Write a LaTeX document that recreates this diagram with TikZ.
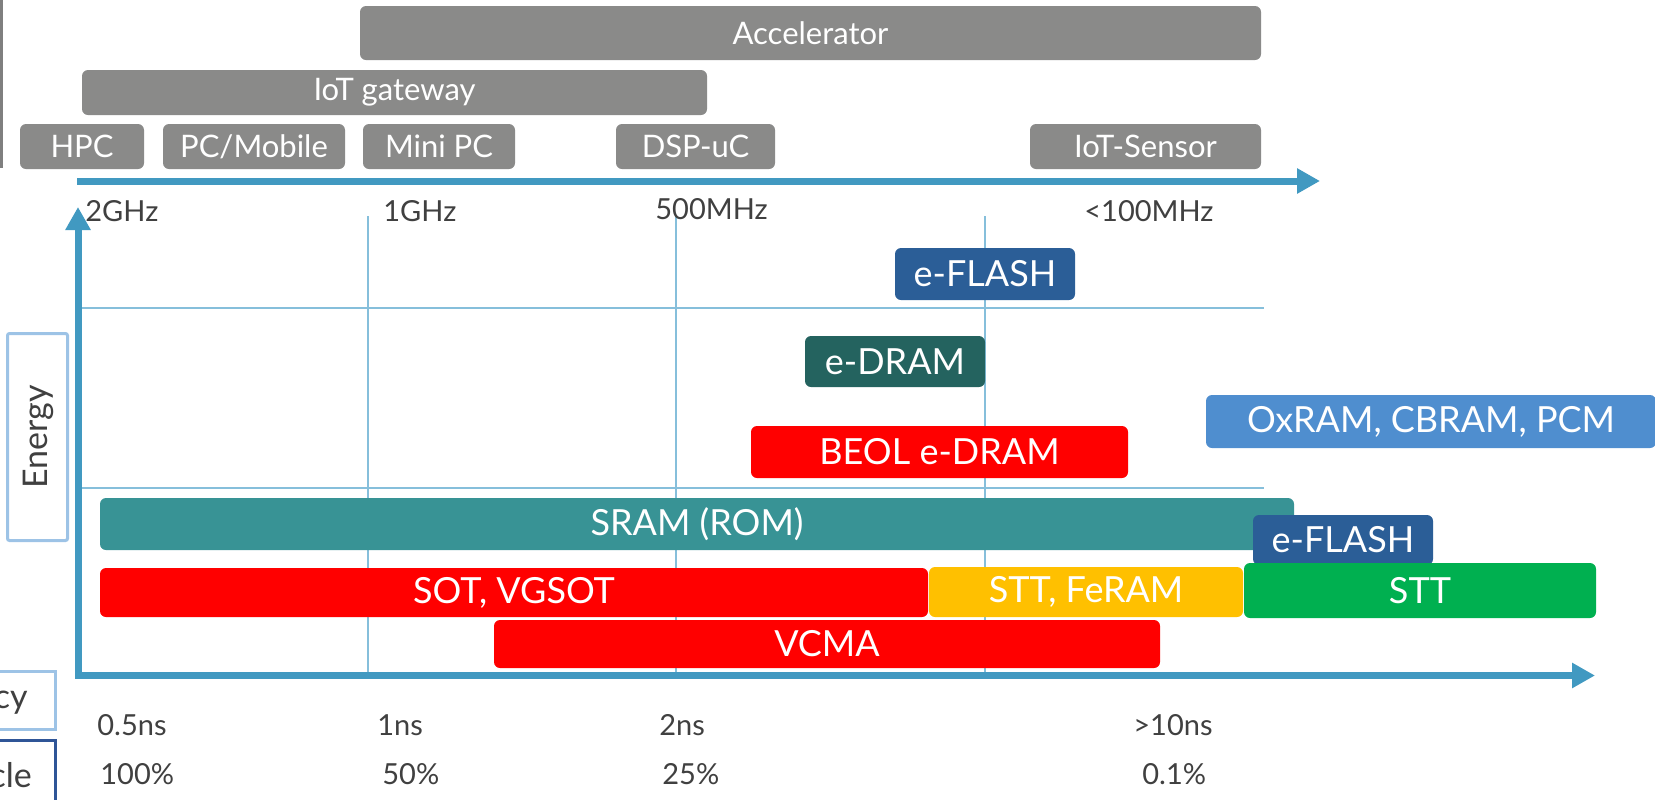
\documentclass[tikz,border=0pt]{standalone}
\usepackage{fontspec}
\setmainfont{Lato}
\usetikzlibrary{arrows.meta}
\definecolor{grayc}{HTML}{8A8A89}
\definecolor{axisblue}{HTML}{4199C1}
\definecolor{gridblue}{HTML}{86BFDB}
\definecolor{eflash}{HTML}{2B5E97}
\definecolor{edram}{HTML}{24635F}
\definecolor{oxram}{HTML}{4F8ECF}
\definecolor{sram}{HTML}{389395}
\definecolor{feram}{HTML}{FFC000}
\definecolor{sttg}{HTML}{00B050}
\definecolor{redc}{HTML}{FF0000}
\definecolor{txt}{HTML}{404040}
\definecolor{lightbord}{HTML}{9DC3E6}
\definecolor{darkbord}{HTML}{2F5597}
\definecolor{leftgray}{HTML}{7F7F7F}
\tikzset{
  sz/.style 2 args={minimum width=#1*0.5pt, minimum height=#2*0.5pt},
  tbox/.style={fill=grayc, rounded corners=3pt, text=white, inner sep=0pt,
    font=\fontsize{15.5}{18}\selectfont},
  mbox/.style={rounded corners=3pt, text=white, inner sep=0pt,
    font=\fontsize{18}{21}\selectfont},
  lbl/.style={text=txt, inner sep=0pt, anchor=base west,
    font=\fontsize{14.5}{17}\selectfont},
  sidetxt/.style={text=txt, inner sep=0pt, font=\fontsize{17}{20}\selectfont},
  gridl/.style={draw=gridblue, line width=0.75pt},
  axisline/.style={draw=axisblue, line width=3.5pt, line join=miter}
}
\begin{document}
\begin{tikzpicture}[x=0.5pt,y=-0.5pt]
\useasboundingbox (0,0) rectangle (1655,799);
\clip (0,0) rectangle (1655,799);

% left edge remnants
\fill[leftgray] (0,0) rectangle (3,168);
\node[draw=lightbord, line width=1.5pt, sz={210}{58}, inner sep=0pt] (latbox) at (-49.5,700.5) {};
\node[sidetxt, anchor=base east] (lattxt) at (28,708) {Latency};
\node[draw=darkbord, line width=1.5pt, sz={210}{80}, inner sep=0pt] (dutybox) at (-49.5,780) {};
\node[sidetxt, anchor=base east] (dutytxt) at (32,787) {Duty cycle};
\node[draw=lightbord, line width=1.5pt, rounded corners=1pt, sz={60}{207}, inner sep=0pt] (enbox) at (37.5,437) {};
\node[sidetxt, rotate=90] (entxt) at (38,437) {Energy};

% grid lines
\draw[gridl] (368,216) -- (368,672);
\draw[gridl] (676,216) -- (676,672);
\draw[gridl] (985,216) -- (985,672);
\draw[gridl] (78,308) -- (1264,308);
\draw[gridl] (78,488) -- (1264,488);

% axes
\coordinate (tstart) at (77,181);
\coordinate (ttip) at (1320,181);
\draw[axisline, -{Triangle[length=11.5pt,width=12pt]}] (tstart) -- (ttip);
\coordinate (vtip) at (78,207);
\coordinate (corner) at (78,675.5);
\coordinate (htip) at (1595,675.5);
\draw[axisline, {Triangle[length=11.5pt,width=12pt]}-{Triangle[length=11.5pt,width=12pt]}] (vtip) -- (corner) -- (htip);

% top application boxes
\node[tbox, sz={901}{54}] (acc) at (810.5,33) {Accelerator};
\node[tbox, sz={625}{45}] (iot) at (394.5,92.5) {IoT gateway};
\node[tbox, sz={124}{45}] (hpc) at (82,146.5) {HPC};
\node[tbox, sz={182}{45}] (pc) at (254,146.5) {PC/Mobile};
\node[tbox, sz={152}{45}] (mini) at (439,146.5) {Mini PC};
\node[tbox, sz={159}{45}] (dsp) at (695.5,146.5) {DSP-uC};
\node[tbox, sz={231}{45}] (sens) at (1145.5,146.5) {IoT-Sensor};

% frequency labels
\node[lbl] (f1) at (85,221) {2GHz};
\node[lbl] (f2) at (383,221) {1GHz};
\node[lbl] (f3) at (655,219) {500MHz};
\node[lbl] (f4) at (1084,221) {<100MHz};

% memory boxes
\node[mbox, fill=eflash, sz={180}{52}] (ef1) at (985,274) {e-FLASH};
\node[mbox, fill=edram, sz={180}{51}] (edr) at (895,361.5) {e-DRAM};
\node[mbox, fill=oxram, sz={450}{53}] (ox) at (1431,421.5) {OxRAM, CBRAM, PCM};
\node[mbox, fill=redc, sz={377}{52}] (beol) at (939.5,452) {BEOL e-DRAM};
\node[mbox, fill=sram, sz={1194}{52}] (sr) at (697,524) {SRAM (ROM)};
\node[mbox, fill=eflash, sz={180}{50}] (ef2) at (1343,540) {e-FLASH};
\node[mbox, fill=redc, sz={828}{49}] (sot) at (514,592.5) {SOT, VGSOT};
\node[mbox, fill=feram, sz={314}{50}] (fe) at (1086,592) {STT, FeRAM};
\node[mbox, fill=sttg, sz={352}{55}] (stt) at (1420,590.5) {STT};
\node[mbox, fill=redc, sz={666}{48}] (vc) at (827,644) {VCMA};

% latency / duty labels
\node[lbl] (l1) at (97,735) {0.5ns};
\node[lbl] (l2) at (377,735) {1ns};
\node[lbl] (l3) at (659,735) {2ns};
\node[lbl] (l4) at (1133,735) {>10ns};
\node[lbl] (d1) at (100,784) {100\%};
\node[lbl] (d2) at (382,784) {50\%};
\node[lbl] (d3) at (662,784) {25\%};
\node[lbl] (d4) at (1142,784) {0.1\%};
\end{tikzpicture}
\end{document}
